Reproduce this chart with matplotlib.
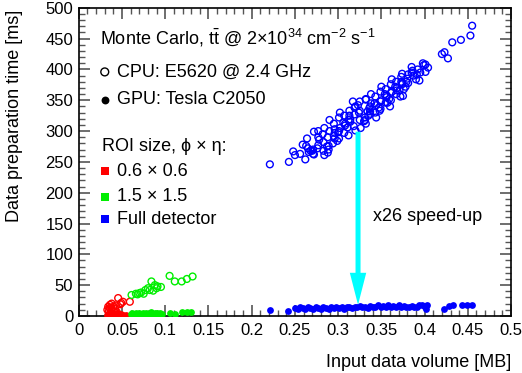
import matplotlib
matplotlib.use("Agg")
import matplotlib.pyplot as plt
from matplotlib.ticker import MultipleLocator

plt.rcParams['font.family'] = ['Liberation Sans', 'DejaVu Sans']
plt.rcParams['mathtext.fontset'] = 'custom'
plt.rcParams['mathtext.rm'] = 'Liberation Sans'
plt.rcParams['mathtext.it'] = 'Liberation Sans:italic'

# full detector, CPU (open) and GPU (filled)
full_cpu_x = [0.221, 0.243, 0.248, 0.250, 0.256, 0.259, 0.262, 0.263, 0.264, 0.265,
              0.266, 0.268, 0.270, 0.271, 0.272, 0.277, 0.272, 0.276, 0.271, 0.284,
              0.277, 0.283, 0.277, 0.282, 0.288, 0.278, 0.287, 0.290, 0.283, 0.289,
              0.284, 0.296, 0.289, 0.295, 0.288, 0.294, 0.300, 0.290, 0.299, 0.302,
              0.295, 0.301, 0.296, 0.308, 0.301, 0.307, 0.301, 0.306, 0.312, 0.302,
              0.311, 0.314, 0.307, 0.313, 0.308, 0.320, 0.313, 0.319, 0.317, 0.318,
              0.324, 0.314, 0.323, 0.326, 0.319, 0.325, 0.320, 0.332, 0.325, 0.331,
              0.325, 0.330, 0.336, 0.332, 0.335, 0.338, 0.331, 0.337, 0.332, 0.344,
              0.337, 0.343, 0.337, 0.342, 0.348, 0.338, 0.347, 0.350, 0.343, 0.349,
              0.344, 0.356, 0.349, 0.355, 0.349, 0.354, 0.360, 0.350, 0.359, 0.362,
              0.355, 0.361, 0.356, 0.368, 0.361, 0.367, 0.361, 0.366, 0.372, 0.362,
              0.371, 0.374, 0.367, 0.373, 0.368, 0.374, 0.375, 0.373, 0.381, 0.376,
              0.380, 0.374, 0.385, 0.379, 0.378, 0.387, 0.385, 0.386, 0.381, 0.391,
              0.390, 0.392, 0.394, 0.395, 0.398, 0.399, 0.401, 0.401, 0.404, 0.420,
              0.423, 0.427, 0.432, 0.442, 0.453, 0.455, 0.312, 0.334, 0.357, 0.296]
full_cpu_y = [246, 250, 267, 261, 263, 278, 254, 276, 288, 272,
              266, 268, 268, 263, 262, 290, 299, 272, 270, 261,
              300, 268, 277, 295, 265, 286, 275, 300, 282, 270,
              305, 288, 276, 312, 290, 280, 298, 318, 284, 305,
              292, 322, 297, 309, 288, 325, 300, 314, 293, 330,
              306, 319, 297, 333, 312, 301, 325, 338, 348, 308,
              330, 315, 342, 305, 327, 318, 340, 312, 333, 322,
              348, 316, 337, 351, 325, 345, 318, 332, 352, 322,
              340, 356, 328, 345, 333, 360, 338, 350, 330, 364,
              342, 355, 336, 368, 348, 360, 340, 372, 352, 364,
              346, 376, 358, 366, 350, 380, 362, 372, 356, 384,
              366, 378, 360, 388, 370, 393, 357, 380, 392, 368,
              385, 376, 395, 380, 372, 390, 404, 398, 378, 392,
              384, 400, 382, 395, 410, 407, 396, 408, 403, 425,
              428, 418, 444, 448, 455, 471, 318, 332, 346, 303]
full_gpu_x = [0.221, 0.242, 0.250, 0.253, 0.256, 0.259, 0.262, 0.265, 0.268, 0.271,
              0.274, 0.277, 0.280, 0.283, 0.286, 0.289, 0.292, 0.295, 0.298, 0.301,
              0.304, 0.307, 0.310, 0.313, 0.316, 0.319, 0.322, 0.325, 0.328, 0.331,
              0.334, 0.337, 0.340, 0.343, 0.346, 0.349, 0.352, 0.355, 0.358, 0.361,
              0.364, 0.367, 0.370, 0.373, 0.376, 0.379, 0.382, 0.385, 0.388, 0.391,
              0.394, 0.397, 0.400, 0.402, 0.403, 0.422, 0.428, 0.433, 0.443, 0.449,
              0.455]
full_gpu_y = [10, 8, 13, 12, 14, 13, 12, 14, 13, 12,
              14, 13, 12, 14, 13, 12, 14, 13, 15, 13,
              14, 12, 15, 14, 13, 15, 14, 16, 14, 15,
              13, 16, 14, 15, 17, 14, 16, 15, 17, 14,
              16, 15, 17, 14, 16, 15, 14, 16, 15, 14,
              17, 18, 15, 12, 18, 12, 16, 17, 17, 17,
              17]

# ROI 0.6 x 0.6
roi06_cpu_x = [0.033, 0.034, 0.035, 0.036, 0.036, 0.037, 0.038, 0.038, 0.039, 0.040,
               0.041, 0.042, 0.043, 0.044, 0.0455, 0.048, 0.049, 0.051, 0.059]
roi06_cpu_y = [10, 15, 8, 13, 18, 5, 12, 20, 9, 15,
               7, 11, 17, 6, 29, 19, 21, 23, 23]
roi06_gpu_x = [0.033, 0.035, 0.036, 0.037, 0.038, 0.039, 0.040, 0.042, 0.044, 0.047,
               0.049, 0.051, 0.055]
roi06_gpu_y = [2, 4, 1, 3, 5, 2, 3, 1, 4, 3, 3, 2, 2]

# ROI 1.5 x 1.5
roi15_cpu_x = [0.061, 0.066, 0.070, 0.075, 0.077, 0.080, 0.084, 0.086, 0.090, 0.091,
               0.095, 0.068, 0.072, 0.082, 0.088, 0.105, 0.111, 0.119, 0.125, 0.1316]
roi15_cpu_y = [34, 36, 37, 36, 42, 45, 56, 41, 45, 48,
               47, 35, 38, 42, 50, 65, 56, 56, 60, 64]
roi15_gpu_x = [0.060, 0.062, 0.064, 0.066, 0.068, 0.070, 0.072, 0.074, 0.076, 0.078,
               0.080, 0.082, 0.084, 0.086, 0.088, 0.090, 0.092, 0.094, 0.096, 0.105,
               0.111, 0.119, 0.125, 0.130]
roi15_gpu_y = [3, 4, 2, 4, 3, 5, 3, 4, 2, 5,
               3, 4, 6, 3, 5, 4, 3, 5, 3, 4,
               3.5, 7, 7, 6]

RED, GREEN, BLUE, CYAN = '#ff0000', '#00ee00', '#0000ff', '#00ffff'

fig = plt.figure(figsize=(5.22, 3.73), dpi=100)
ax = fig.add_axes([0.151, 0.153, 0.828, 0.826])

ms = 24
for x, y, c in [(roi06_cpu_x, roi06_cpu_y, RED), (roi15_cpu_x, roi15_cpu_y, GREEN),
                (full_cpu_x, full_cpu_y, BLUE)]:
    ax.scatter(x, y, s=ms, facecolors='none', edgecolors=c, linewidths=1.0, zorder=3)
for x, y, c in [(roi06_gpu_x, roi06_gpu_y, RED), (roi15_gpu_x, roi15_gpu_y, GREEN),
                (full_gpu_x, full_gpu_y, BLUE)]:
    ax.scatter(x, y, s=ms, color=c, linewidths=0, zorder=3)

# speed-up arrow
ax.arrow(0.323, 299, 0, -281, width=0.0058, head_width=0.019, head_length=52,
         length_includes_head=True, color=CYAN, lw=0, zorder=4)
ax.text(0.340, 162, 'x26 speed-up', fontsize=13, va='center', ha='left')

ax.set_xlim(0, 0.5)
ax.set_ylim(0, 500)
ax.xaxis.set_minor_locator(MultipleLocator(0.01))
ax.yaxis.set_major_locator(MultipleLocator(50))
ax.yaxis.set_minor_locator(MultipleLocator(10))
ax.set_xticks([i * 0.05 for i in range(11)])
ax.set_xticklabels(['0', '0.05', '0.1', '0.15', '0.2', '0.25', '0.3', '0.35', '0.4', '0.45', '0.5'])
ax.tick_params(which='both', direction='in', top=True, right=True, labelsize=12,
               color='#555555')
ax.tick_params(which='major', length=8, width=1.2)
ax.tick_params(which='minor', length=4, width=1.0)
ax.tick_params(axis='x', pad=5)
ax.tick_params(axis='y', pad=4)
for s in ax.spines.values():
    s.set_linewidth(1.2)

ax.set_xlabel('Input data volume [MB]', fontsize=13, loc='right')
ax.set_ylabel('Data preparation time [ms]', fontsize=13, loc='top')
ax.xaxis.set_label_coords(1.0, -0.125)
ax.yaxis.set_label_coords(-0.128, 0.995)

# legend block
tr = ax.transAxes
ax.text(0.048, 0.903, r'Monte Carlo, t$\bar{\mathrm{t}}$ @ 2$\times$10$^{34}$ cm$^{-2}$ s$^{-1}$',
        transform=tr, fontsize=13, va='center')
ax.scatter([0.060], [0.792], s=ms + 8, facecolors='none', edgecolors='black', linewidths=1.0, transform=tr)
ax.text(0.088, 0.792, 'CPU: E5620 @ 2.4 GHz', transform=tr, fontsize=13, va='center')
ax.scatter([0.060], [0.701], s=ms + 8, color='black', linewidths=0, transform=tr)
ax.text(0.088, 0.701, 'GPU: Tesla C2050', transform=tr, fontsize=13, va='center')
ax.text(0.053, 0.549, 'ROI size, ϕ × η:', transform=tr, fontsize=13, va='center')
for yy, c, lab in [(0.469, RED, '0.6 × 0.6'), (0.387, GREEN, '1.5 × 1.5'), (0.314, BLUE, 'Full detector')]:
    ax.scatter([0.060], [yy], s=30, marker='s', color=c, linewidths=0, transform=tr)
    ax.text(0.088, yy, lab, transform=tr, fontsize=13, va='center')

fig.savefig('out.png', dpi=100)
